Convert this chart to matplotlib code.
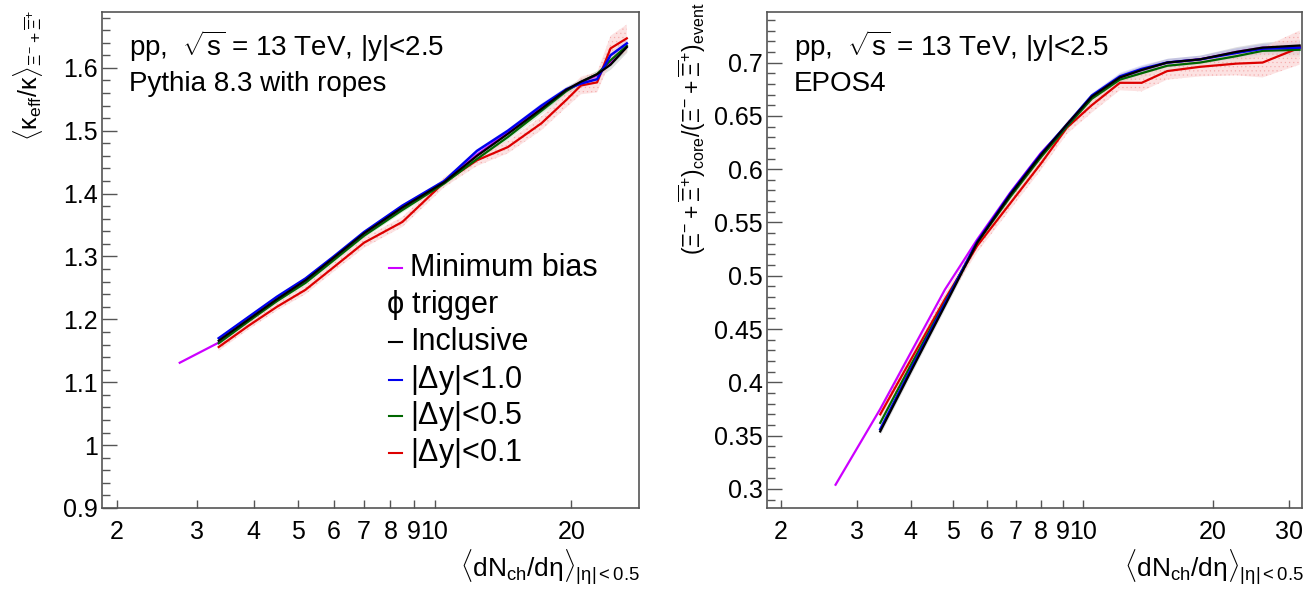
import numpy as np
import matplotlib
matplotlib.use("Agg")
import matplotlib.pyplot as plt
import matplotlib.ticker as ticker

plt.rcParams['font.family'] = ['Liberation Sans', 'DejaVu Sans']
plt.rcParams['mathtext.fontset'] = 'custom'
plt.rcParams['mathtext.rm'] = 'Liberation Sans'
plt.rcParams['mathtext.it'] = 'Liberation Sans'
plt.rcParams['mathtext.bf'] = 'Liberation Sans:bold'
plt.rcParams['hatch.linewidth'] = 0.4

# ---- Pythia 8.3 with ropes (left) ----
x_py = [3.35, 3.9, 4.5, 5.2, 6.0, 7.0, 8.5, 10.5, 12.4, 14.5, 17.2, 19.5, 21.0, 22.8, 24.4, 26.5]
py_incl = [1.166, 1.200, 1.232, 1.262, 1.298, 1.337, 1.378, 1.418, 1.460, 1.495, 1.535, 1.565, 1.578, 1.590, 1.605, 1.633]
py_dy10 = [1.170, 1.204, 1.236, 1.265, 1.300, 1.339, 1.381, 1.420, 1.468, 1.500, 1.540, 1.566, 1.575, 1.582, 1.620, 1.639]
py_dy05 = [1.162, 1.197, 1.229, 1.258, 1.294, 1.333, 1.374, 1.416, 1.455, 1.490, 1.532, 1.563, 1.577, 1.590, 1.612, 1.635]
py_dy01 = [1.156, 1.190, 1.220, 1.247, 1.283, 1.322, 1.355, 1.418, 1.453, 1.474, 1.512, 1.549, 1.572, 1.577, 1.631, 1.647]
py_err01 = [0.006, 0.006, 0.006, 0.007, 0.007, 0.008, 0.008, 0.008, 0.009, 0.010, 0.011, 0.012, 0.014, 0.016, 0.020, 0.022]
py_err = [0.003, 0.003, 0.003, 0.003, 0.003, 0.003, 0.003, 0.004, 0.004, 0.004, 0.005, 0.005, 0.006, 0.006, 0.007, 0.008]
x_py_mb = [2.75, 3.35, 3.9, 4.5, 5.2, 6.0, 7.0, 8.5, 10.5, 12.4, 14.5, 17.2, 19.5, 21.0, 22.8, 24.4, 26.5]
py_mb = [1.131, 1.163, 1.198, 1.230, 1.260, 1.296, 1.335, 1.376, 1.418, 1.462, 1.497, 1.537, 1.565, 1.577, 1.588, 1.608, 1.634]

# ---- EPOS4 (right) ----
x_ep = [3.4, 4.0, 4.8, 5.7, 6.8, 8.0, 9.2, 10.5, 12.2, 13.7, 15.7, 18.7, 22.7, 26.1, 31.8]
ep_incl = [0.354, 0.410, 0.472, 0.531, 0.576, 0.613, 0.642, 0.668, 0.686, 0.693, 0.700, 0.703, 0.710, 0.714, 0.716]
ep_dy10 = [0.356, 0.412, 0.474, 0.532, 0.577, 0.614, 0.642, 0.669, 0.687, 0.694, 0.700, 0.703, 0.709, 0.713, 0.714]
ep_dy05 = [0.362, 0.416, 0.475, 0.531, 0.574, 0.611, 0.640, 0.666, 0.684, 0.690, 0.697, 0.700, 0.706, 0.711, 0.712]
ep_dy01 = [0.370, 0.421, 0.478, 0.528, 0.568, 0.605, 0.639, 0.660, 0.681, 0.681, 0.692, 0.696, 0.699, 0.700, 0.714]
ep_err01 = [0.005, 0.005, 0.005, 0.006, 0.006, 0.006, 0.006, 0.007, 0.007, 0.008, 0.008, 0.009, 0.011, 0.014, 0.016]
ep_err = [0.003, 0.003, 0.003, 0.003, 0.003, 0.003, 0.003, 0.003, 0.004, 0.004, 0.004, 0.004, 0.005, 0.005, 0.006]
x_ep_mb = [2.68, 3.4, 4.8, 5.7, 6.8, 8.0, 9.2, 10.5, 12.2, 13.7, 15.7, 18.7, 22.7, 26.1, 31.8]
ep_mb = [0.304, 0.375, 0.487, 0.534, 0.578, 0.615, 0.641, 0.668, 0.686, 0.693, 0.700, 0.703, 0.710, 0.714, 0.715]

labels = ['Minimum bias', r'$\phi$ trigger', 'Inclusive', r'|$\Delta$y|<1.0', r'|$\Delta$y|<0.5', r'|$\Delta$y|<0.1']
colors = ['#cc00ff', None, 'black', '#0000ee', '#006600', '#dd0000']

xticks_l = [2, 3, 4, 5, 6, 7, 8, 9, 10, 20]
xticks_r = [2, 3, 4, 5, 6, 7, 8, 9, 10, 20, 30]
framecol = '#555555'

fig = plt.figure(figsize=(13.15, 5.96), dpi=100)
axl = fig.add_axes([0.0776, 0.1477, 0.4084, 0.8323])
axr = fig.add_axes([0.5833, 0.1477, 0.4068, 0.8323])


def draw(ax, x, mb_x, mb, incl, d10, d05, d01, e01, e):
    x = np.array(x)
    for y, c in [(incl, 'black'), (d10, '#0000ee'), (d05, '#006600')]:
        y = np.array(y)
        ax.fill_between(x, y - e, y + e, color=c, alpha=0.12, lw=0)
    y = np.array(d01)
    ax.fill_between(x, y - e01, y + e01, facecolor='#fbd6d6', edgecolor='#f3a0a0',
                    hatch='....', lw=0, alpha=0.7)
    ax.plot(mb_x, mb, color='#cc00ff', lw=1.6)
    ax.plot(x, d01, color='#dd0000', lw=1.6)
    ax.plot(x, d05, color='#006600', lw=1.6)
    ax.plot(x, d10, color='#0000ee', lw=1.8)
    ax.plot(x, incl, color='black', lw=1.6)


draw(axl, x_py, x_py_mb, py_mb, py_incl, py_dy10, py_dy05, py_dy01, py_err01, py_err)
draw(axr, x_ep, x_ep_mb, ep_mb, ep_incl, ep_dy10, ep_dy05, ep_dy01, ep_err01, ep_err)

for ax, xt, xl, yl, ymaj, ymin in [
        (axl, xticks_l, (1.855, 28.2), (0.9, 1.689), 0.1, 0.02),
        (axr, xticks_r, (1.86, 32.2), (0.2822, 0.7475), 0.05, 0.01)]:
    ax.set_xscale('log')
    ax.set_xlim(*xl)
    ax.set_ylim(*yl)
    ax.xaxis.set_major_locator(ticker.FixedLocator(xt))
    ax.xaxis.set_major_formatter(ticker.FixedFormatter([str(v) for v in xt]))
    ax.xaxis.set_minor_locator(ticker.NullLocator())
    ax.yaxis.set_major_locator(ticker.MultipleLocator(ymaj))
    ax.yaxis.set_minor_locator(ticker.MultipleLocator(ymin))
    ax.yaxis.set_major_formatter(ticker.FuncFormatter(lambda v, p: '{0:g}'.format(round(v, 3))))
    ax.tick_params(axis='x', which='major', direction='in', length=6, width=1, color=framecol,
                   labelsize=18, pad=9)
    ax.tick_params(axis='y', which='major', direction='in', length=11, width=1, color=framecol,
                   labelsize=18, pad=3)
    ax.tick_params(axis='y', which='minor', direction='in', length=5.5, width=1, color=framecol)
    for s in ax.spines.values():
        s.set_color(framecol)
        s.set_linewidth(1.2)

# annotations
ann = r'pp,  $\sqrt{\rm s}$ = 13 TeV, |y|<2.5'
axl.text(0.05, 0.93, ann, transform=axl.transAxes, fontsize=20, va='center')
axl.text(0.05, 0.855, 'Pythia 8.3 with ropes', transform=axl.transAxes, fontsize=20, va='center')
axr.text(0.05, 0.93, ann, transform=axr.transAxes, fontsize=20, va='center')
axr.text(0.05, 0.855, 'EPOS4', transform=axr.transAxes, fontsize=20, va='center')

# legend
leg_y = [268, 305, 342, 380, 416, 453]
for lab, c, yp in zip(labels, colors, leg_y):
    yf = 1 - yp / 596
    if c is not None:
        fig.add_artist(plt.Line2D([389 / 1315, 402 / 1315], [yf, yf], color=c, lw=1.5))
        fig.text(410 / 1315, yf, lab, fontsize=22, va='center', ha='left')
    else:
        fig.text(386 / 1315, yf, lab, fontsize=22, va='center', ha='left')

# axis labels
xlab = r'$\langle$dN$_{\rm ch}$/d$\eta\rangle_{|\eta|<0.5}$'
fig.text(640 / 1315, 1 - 567 / 596, xlab, fontsize=19, ha='right', va='center')
fig.text(1304 / 1315, 1 - 567 / 596, xlab, fontsize=19, ha='right', va='center')
fig.text(28 / 1315, 1 - 10 / 596, r'$\langle\kappa_{\rm eff}/\kappa\rangle_{\Xi^{-}+\overline{\Xi}^{+}}$',
         fontsize=18, rotation=90, ha='center', va='top')
fig.text(692 / 1315, 1 - 2 / 596,
         r'$(\Xi^{-}+\overline{\Xi}^{+})_{\rm core}/(\Xi^{-}+\overline{\Xi}^{+})_{\rm event}$',
         fontsize=16.5, rotation=90, ha='center', va='top')

fig.savefig('out.png', dpi=100)
